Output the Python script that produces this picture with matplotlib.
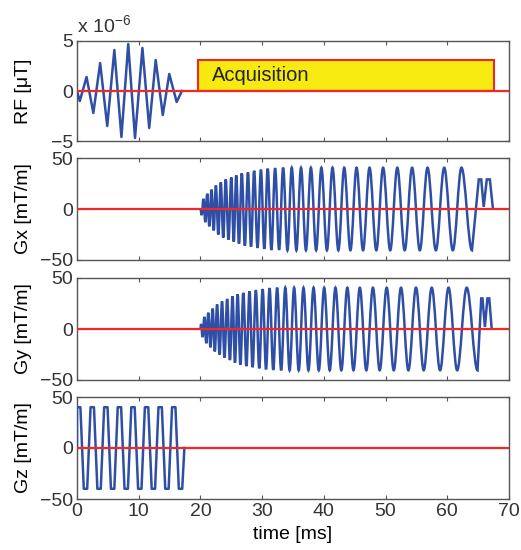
import numpy as np
import matplotlib
matplotlib.use("Agg")
import matplotlib.pyplot as plt
from matplotlib.path import Path
from matplotlib.patches import PathPatch, Rectangle

plt.rcParams.update({
    "font.family": "Liberation Sans", "font.size": 14,
    "mathtext.fontset": "custom", "mathtext.rm": "Liberation Sans",
})
BLUE = "#2f4fa6"; RED = "#f02828"; GREY = "#555555"

# ---- data ----
# RF pulse extrema (x 1e-6 uT)
rf_t = [0.0, 0.45, 1.55, 2.65, 3.75, 4.9, 6.05, 7.2, 8.3, 9.4, 10.6, 11.7, 12.75, 13.9, 14.95, 16.15, 17.0]
rf_v = [0.0, -1.0, 1.4, -2.2, 2.8, -3.5, 4.1, -4.6, 4.7, -4.7, 4.3, -3.7, 3.1, -2.4, 1.7, -1.1, 0.0]
# acquisition window
acq_start, acq_end, acq_h = 19.6, 67.6, 3.1

# Gx spiral gradient extrema (mT/m)
gx_t = [20.0, 20.2, 20.5, 20.8, 21.1, 21.45, 21.8, 22.15, 22.5, 22.9, 23.3, 23.7, 24.1, 24.55,
        25.0, 25.4, 25.8, 26.25, 26.7, 27.2, 27.7, 28.2, 28.7, 29.25, 29.8, 30.35, 30.9, 31.5,
        32.1, 32.75, 33.4, 34.1, 34.8, 35.55, 36.3, 37.1, 37.9, 38.75, 39.6, 40.5, 41.4, 42.35,
        43.3, 44.3, 45.3, 46.35, 47.4, 48.5, 49.6, 50.75, 51.9, 53.1, 54.3, 55.55, 56.8, 58.15,
        59.5, 60.9, 62.3, 64.0]
gx_v = [0, -6, 10, -13, 15, -17, 19, -21, 23, -25, 26, -28, 29, -30,
        31, -32, 33, -34, 35, -36, 36, -37, 37.5, -38, 38.5, -39, 39.5, -40,
        40, -40, 40.5, -40.5, 40.5, -40.5, 40.5, -40.5, 40.5, -40.5, 40.5, -40.5, 40.5, -40.5,
        40.5, -40.5, 40.5, -40.5, 40.5, -40.5, 40.5, -40.5, 40.5, -40.5, 40.5, -40.5, 40.5, -40.5,
        40.5, -40.5, 40.5, -40.5]
gx_tail_t = [65.1, 65.5, 65.9, 66.4, 66.9, 67.4]
gx_tail_v = [29, 29, 2, 29, 29, 0]

# Gy spiral gradient extrema (mT/m)
gy_t = [20.0, 20.1, 20.35, 20.65, 20.95, 21.28, 21.63, 21.98, 22.33, 22.7, 23.1, 23.5, 23.9,
        24.33, 24.78, 25.2, 25.6, 26.03, 26.48, 26.95, 27.45, 27.95, 28.45, 28.98, 29.53, 30.08,
        30.63, 31.2, 31.8, 32.43, 33.08, 33.75, 34.45, 35.18, 35.93, 36.7, 37.5, 38.33, 39.18,
        40.05, 40.95, 41.88, 42.83, 43.8, 44.8, 45.83, 46.88, 47.95, 49.05, 50.18, 51.33, 52.5,
        53.7, 54.93, 56.18, 57.48, 58.83, 60.2, 61.6, 63.15, 64.9]
gy_v = [0, 5, -8, 12, -14, 16, -18, 20, -22, 24, -25, 27, -28,
        29.5, -30.5, 32, -33, 34, -35, 35.5, -36.5, 37, -37.5, 38, -38.5, 39,
        -39.5, 40, -40, 40.5, -40.5, 40.5, -40.5, 40.5, -40.5, 40.5, -40.5, 40.5, -40.5,
        40.5, -40.5, 40.5, -40.5, 40.5, -40.5, 40.5, -40.5, 40.5, -40.5, 40.5, -40.5, 40.5,
        -40.5, 40.5, -40.5, 40.5, -40.5, 40.5, -40.5, 40.5, -40.5]
gy_tail_t = [65.5, 65.7, 66.1, 66.5, 66.8, 67.2]
gy_tail_v = [30, 30, 2, 30, 30, 0]

# Gz trapezoid corners (mT/m)
gz_t = [0.0, 0.0, 0.55, 1.1, 1.65, 2.2, 2.75, 3.3, 3.85, 4.4, 4.95, 5.5, 6.05, 6.6, 7.15,
        7.7, 8.25, 8.8, 9.35, 9.9, 10.45, 11.0, 11.55, 12.1, 12.65, 13.2, 13.75, 14.3, 14.85,
        15.4, 15.95, 16.5, 17.05, 17.4]
gz_v = [0, 40, 40, -40, -40, 40, 40, -40, -40, 40, 40, -40, -40, 40, 40,
        -40, -40, 40, 40, -40, -40, 40, 40, -40, -40, 40, 40, -40, -40,
        40, 40, -40, -40, 0]


def wave(t, v, tail_t, tail_v, k=0.36):
    # smooth half-cycles between the read extrema, straight lines for the tail
    verts = [(t[0], v[0])]; codes = [Path.MOVETO]
    for i in range(1, len(t)):
        d = t[i] - t[i - 1]
        verts += [(t[i - 1] + k * d, v[i - 1]), (t[i] - k * d, v[i]), (t[i], v[i])]
        codes += [Path.CURVE4] * 3
    for a, b in zip(tail_t, tail_v):
        verts.append((a, b)); codes.append(Path.LINETO)
    return Path(verts, codes)


W, H = 521, 550
fig = plt.figure(figsize=(W / 100, H / 100), dpi=100)
boxes = [(41, 141), (158, 260), (278, 380), (397, 499)]
axes = [fig.add_axes([77 / W, 1 - b / H, 432 / W, (b - t) / H]) for t, b in boxes]

for ax in axes:
    ax.set_xlim(0, 70); ax.set_xticks(range(0, 71, 10))
    ax.tick_params(direction="in", top=True, right=True, length=3, width=0.8,
                   color=GREY, labelcolor="#333333", labelsize=14, pad=3)
    for s in ax.spines.values():
        s.set_color(GREY); s.set_linewidth(1.0)
    ax.axhline(0, color=RED, lw=1.6, zorder=4)

# RF
ax = axes[0]
ax.add_patch(Rectangle((acq_start, 0), acq_end - acq_start, acq_h, fc="#f6ea10", ec=RED, lw=1.5, zorder=3))
ax.text(acq_start + 2.3, acq_h / 2, "Acquisition", fontsize=14.5, va="center", color="#222222", zorder=5)
ax.plot(rf_t, rf_v, color=BLUE, lw=1.8, zorder=3)
ax.set_ylim(-5, 5); ax.set_yticks([-5, 0, 5])
ax.set_ylabel("RF [μT]")
ax.text(0.0, 1.08, "x 10$^{-6}$", transform=ax.transAxes, fontsize=14, color="#333333", va="baseline")

# Gx, Gy
for ax, (t, v, tt, tv), lbl in [(axes[1], (gx_t, gx_v, gx_tail_t, gx_tail_v), "Gx [mT/m]"),
                                (axes[2], (gy_t, gy_v, gy_tail_t, gy_tail_v), "Gy [mT/m]")]:
    ax.add_patch(PathPatch(wave(t, v, tt, tv), fill=False, ec=BLUE, lw=1.8, zorder=3))
    ax.set_ylim(-50, 50); ax.set_yticks([-50, 0, 50]); ax.set_ylabel(lbl)

# Gz
ax = axes[3]
ax.plot(gz_t, gz_v, color=BLUE, lw=1.8, zorder=3)
ax.set_ylim(-50, 50); ax.set_yticks([-50, 0, 50]); ax.set_ylabel("Gz [mT/m]")
ax.set_xlabel("time [ms]", labelpad=4)

for ax in axes[:3]:
    ax.tick_params(labelbottom=False)
for ax in axes:
    ax.yaxis.set_label_coords(-0.105, 0.5)

fig.savefig("out.png", dpi=100)
